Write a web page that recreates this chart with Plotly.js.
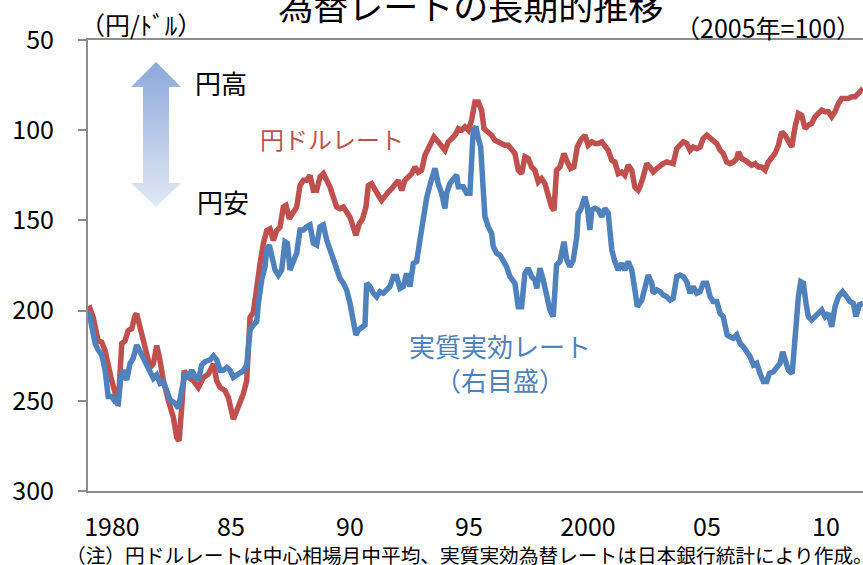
<!DOCTYPE html>
<html>
<head>
<meta charset="utf-8">
<script src="https://cdn.plot.ly/plotly-3.0.1.min.js"></script>
<style>html,body{margin:0;padding:0;background:#fff;}#chart{width:863px;height:565px;}</style>
</head>
<body>
<div id="chart"></div>
<script>
// x tick labels
const tickYears = [1980, 1985, 1990, 1995, 2000, 2005, 2010];
const tickLabels = ["1980", "85", "90", "95", "2000", "05", "10"];
const yTicks = [50, 100, 150, 200, 250, 300];

// 円ドルレート (円/ドル, left axis, reversed)
const usdJpyYears = [1979.03,1979.21,1979.42,1979.57,1979.71,1979.84,1979.99,1980.13,1980.26,1980.41,
1980.55,1980.68,1980.83,1980.97,1981.04,1981.18,1981.32,1981.46,1981.60,1981.74,
1981.88,1982.02,1982.16,1982.37,1982.58,1982.72,1982.82,1982.93,1983.03,1983.21,
1983.42,1983.63,1983.84,1984.05,1984.26,1984.40,1984.54,1984.75,1984.89,1985.10,
1985.24,1985.38,1985.52,1985.66,1985.80,1985.94,1986.08,1986.22,1986.36,1986.50,
1986.64,1986.78,1986.92,1987.06,1987.20,1987.31,1987.45,1987.59,1987.76,1987.90,
1988.04,1988.18,1988.32,1988.46,1988.60,1988.74,1988.88,1989.02,1989.16,1989.30,
1989.44,1989.58,1989.72,1989.86,1990.00,1990.14,1990.25,1990.39,1990.53,1990.67,
1990.77,1990.91,1991.05,1991.19,1991.33,1991.47,1991.61,1991.75,1991.89,1992.03,
1992.17,1992.31,1992.45,1992.59,1992.73,1992.87,1993.01,1993.15,1993.29,1993.43,
1993.53,1993.71,1993.85,1993.99,1994.13,1994.27,1994.41,1994.55,1994.69,1994.83,
1994.97,1995.11,1995.25,1995.39,1995.53,1995.63,1995.81,1995.95,1996.09,1996.23,
1996.37,1996.51,1996.65,1996.79,1996.93,1997.07,1997.21,1997.35,1997.49,1997.63,
1997.77,1997.91,1998.05,1998.19,1998.33,1998.47,1998.57,1998.68,1998.82,1998.99,
1999.13,1999.27,1999.41,1999.55,1999.69,1999.87,2000.01,2000.16,2000.29,2000.43,
2000.58,2000.71,2000.85,2001.00,2001.13,2001.27,2001.42,2001.55,2001.69,2001.84,
2001.97,2002.11,2002.18,2002.32,2002.47,2002.60,2002.74,2002.89,2003.03,2003.16,
2003.31,2003.45,2003.58,2003.73,2003.87,2004.00,2004.15,2004.29,2004.42,2004.57,
2004.71,2004.84,2004.99,2005.13,2005.26,2005.41,2005.55,2005.68,2005.83,2005.97,
2006.11,2006.25,2006.32,2006.46,2006.60,2006.74,2006.88,2007.02,2007.16,2007.30,
2007.44,2007.58,2007.72,2007.86,2008.00,2008.14,2008.28,2008.42,2008.56,2008.70,
2008.84,2008.98,2009.12,2009.26,2009.40,2009.54,2009.68,2009.82,2009.96,2010.10,
2010.24,2010.38,2010.52,2010.66,2010.80,2010.94,2011.08,2011.22,2011.36,2011.56];
const usdJpyValues = [197.2,203.7,216.7,217.6,222.2,231.5,238.9,245.6,252.8,218.3,
216.7,211.1,210.0,202.8,201.8,209.3,216.7,225.9,231.5,229.4,
219.4,227.8,238.9,250.0,259.3,270.4,272.2,253.7,233.3,237.1,
238.9,242.6,237.1,235.2,229.6,238.9,242.6,244.4,248.2,260.2,
255.6,250.9,246.1,238.9,203.7,200.9,186.1,174.1,162.9,155.6,
154.6,161.1,155.6,153.7,142.6,141.7,149.1,146.3,142.6,130.6,
127.8,127.8,125.0,133.3,133.3,125.9,124.1,127.8,131.5,137.1,
142.6,143.5,142.6,145.4,148.2,153.7,158.3,151.8,149.1,142.6,
130.6,129.6,133.3,136.1,138.9,137.1,134.3,132.4,129.6,127.8,
133.3,127.8,125.9,124.1,120.4,123.3,122.2,113.9,110.2,105.6,
103.7,106.5,109.3,111.1,106.5,104.6,102.8,99.1,100.0,98.2,
100.0,94.4,84.3,84.3,88.9,99.1,100.9,102.8,105.6,106.5,
107.4,108.3,108.3,111.1,112.9,122.2,124.1,114.8,115.7,120.4,
122.2,128.7,126.8,129.6,136.1,142.6,144.4,122.2,120.4,112.9,
117.6,121.3,120.4,109.3,105.6,102.8,108.3,106.5,107.4,107.4,
106.5,108.3,111.1,116.7,117.6,124.1,123.2,125.0,119.4,122.2,
131.5,133.3,131.5,125.9,118.5,120.4,123.2,121.3,119.4,118.5,
117.6,118.5,118.5,110.2,108.3,106.5,107.4,111.1,109.3,110.2,
109.3,104.6,102.8,104.6,106.5,107.4,111.1,112.9,117.6,118.5,
117.6,115.7,112.1,115.7,116.7,118.5,119.4,118.5,120.4,120.4,
122.2,117.6,115.7,112.9,108.3,100.9,102.8,105.6,109.3,98.2,
90.7,91.7,99.1,97.2,96.3,92.6,90.7,88.9,89.8,89.8,
92.6,89.8,85.2,82.4,82.4,82.4,81.5,81.5,79.6,76.8];

// 実質実効レート (2005年=100, right axis)
const reerYears = [1979.03,1979.15,1979.29,1979.42,1979.57,1979.71,1979.84,1979.99,1980.13,1980.26,
1980.38,1980.47,1980.62,1980.76,1980.89,1981.04,1981.18,1981.32,1981.46,1981.60,
1981.74,1981.88,1982.02,1982.16,1982.30,1982.44,1982.65,1982.79,1982.93,1983.07,
1983.21,1983.35,1983.49,1983.63,1983.77,1983.91,1984.12,1984.26,1984.40,1984.54,
1984.68,1984.82,1984.96,1985.10,1985.31,1985.52,1985.66,1985.80,1985.94,1986.08,
1986.15,1986.29,1986.43,1986.50,1986.61,1986.71,1986.85,1986.99,1987.13,1987.27,
1987.37,1987.48,1987.62,1987.76,1987.90,1988.04,1988.18,1988.32,1988.46,1988.60,
1988.74,1988.88,1989.02,1989.16,1989.30,1989.44,1989.58,1989.72,1989.86,1990.00,
1990.14,1990.25,1990.35,1990.49,1990.63,1990.70,1990.84,1990.98,1991.12,1991.26,
1991.40,1991.54,1991.68,1991.82,1991.96,1992.10,1992.24,1992.38,1992.52,1992.66,
1992.80,1992.94,1993.08,1993.22,1993.36,1993.50,1993.57,1993.71,1993.85,1993.99,
1994.06,1994.20,1994.34,1994.48,1994.55,1994.76,1994.90,1995.04,1995.18,1995.29,
1995.39,1995.49,1995.60,1995.67,1995.81,1995.95,1996.02,1996.16,1996.30,1996.44,
1996.58,1996.72,1996.93,1997.07,1997.21,1997.35,1997.49,1997.63,1997.77,1997.85,
1997.98,1998.12,1998.27,1998.40,1998.54,1998.68,1998.82,1998.99,1999.11,1999.24,
1999.38,1999.53,1999.59,1999.69,1999.87,1999.97,2000.08,2000.16,2000.29,2000.43,
2000.58,2000.71,2000.85,2001.00,2001.13,2001.27,2001.42,2001.55,2001.69,2001.84,
2001.97,2002.07,2002.26,2002.39,2002.53,2002.68,2002.74,2002.89,2003.03,2003.16,
2003.31,2003.45,2003.58,2003.73,2003.87,2004.00,2004.15,2004.29,2004.42,2004.57,
2004.71,2004.84,2004.99,2005.13,2005.26,2005.41,2005.55,2005.68,2005.76,2005.85,
2005.97,2006.11,2006.25,2006.39,2006.53,2006.67,2006.81,2006.95,2007.09,2007.23,
2007.37,2007.51,2007.62,2007.79,2007.93,2008.07,2008.18,2008.28,2008.42,2008.58,
2008.70,2008.84,2008.94,2009.05,2009.16,2009.26,2009.40,2009.54,2009.68,2009.82,
2009.96,2010.10,2010.24,2010.38,2010.52,2010.70,2010.87,2011.01,2011.15,2011.26,
2011.40,2011.56];
const reerValues = [89.6,84.6,79.1,76.9,75.2,70.2,61.4,61.4,59.7,59.2,
68.0,70.2,66.9,72.5,74.1,78.6,76.3,73.6,71.9,69.1,
67.5,68.6,65.8,66.4,63.6,60.3,59.2,57.5,63.6,68.6,
68.0,70.2,68.0,66.9,71.9,73.0,73.6,74.9,73.6,70.2,
70.2,71.1,70.2,67.8,68.9,70.0,71.9,83.5,85.2,86.3,
92.4,100.2,104.6,110.2,111.8,107.9,103.5,101.8,103.5,112.9,
112.4,103.5,106.8,109.1,116.8,116.8,117.9,118.5,112.4,111.8,
117.9,118.5,113.5,110.2,107.9,103.5,100.7,99.1,96.9,92.4,
86.9,81.9,83.5,84.6,85.2,99.1,98.0,95.8,94.6,96.3,
95.8,96.9,98.0,101.3,101.3,97.4,98.0,102.4,98.0,105.7,
106.3,113.5,121.5,127.4,131.8,136.1,137.3,132.1,129.0,124.0,
129.0,132.3,133.4,135.1,131.2,131.2,129.0,129.0,150.1,151.2,
147.3,144.5,130.1,121.2,117.9,115.7,111.3,109.1,108.5,106.3,
104.6,101.3,99.1,91.3,91.3,102.4,104.1,101.3,100.2,97.4,
104.1,100.2,94.6,90.2,88.0,105.2,106.3,112.9,106.8,104.6,
106.8,114.6,122.4,123.5,127.9,124.6,116.8,123.5,124.0,123.5,
121.2,124.0,122.4,110.2,106.3,103.5,105.7,103.5,106.3,103.5,
96.9,91.3,93.5,98.0,101.8,99.1,95.8,96.9,96.3,95.2,
94.6,93.5,94.1,101.3,101.8,101.3,99.6,95.8,98.0,95.8,
96.3,99.1,99.1,94.6,93.0,93.0,89.1,88.0,84.6,81.9,
81.3,80.8,81.9,79.1,78.0,76.3,74.7,71.9,72.5,69.1,
66.4,66.4,69.1,69.7,70.8,72.5,76.3,73.0,70.2,69.1,
81.3,94.6,99.6,99.1,92.4,88.0,86.9,88.0,88.5,90.2,
88.0,89.1,84.6,91.3,94.6,96.3,94.6,93.0,92.4,88.0,
91.9,92.4];

const FONT = '"Noto Sans CJK JP", "Noto Sans", sans-serif';
const axisGray = '#8c8c8c';

const arrowSvg = '<svg xmlns="http://www.w3.org/2000/svg" width="50" height="145" viewBox="0 0 50 145">' +
  '<defs><linearGradient id="g" x1="0" y1="0" x2="0" y2="1">' +
  '<stop offset="0" stop-color="#8CA8DA"/><stop offset="1" stop-color="#E2E9F6"/></linearGradient></defs>' +
  '<polygon points="25,0 50,25 38,25 38,121 50,121 25,145 0,121 12,121 12,25 0,25" fill="url(#g)"/></svg>';

const traces = [
  {x: usdJpyYears, y: usdJpyValues, type: 'scatter', mode: 'lines', name: '円ドルレート',
   line: {color: '#C0504D', width: 5.5}, yaxis: 'y', hoverinfo: 'skip'},
  {x: reerYears, y: reerValues, type: 'scatter', mode: 'lines', name: '実質実効レート',
   line: {color: '#4F81BD', width: 5.5}, yaxis: 'y2', hoverinfo: 'skip'}
];

const layout = {
  width: 863, height: 565,
  margin: {l: 88, r: 0, t: 40, b: 74, pad: 0},
  paper_bgcolor: '#ffffff', plot_bgcolor: '#ffffff',
  font: {family: FONT, color: '#000000'},
  showlegend: false,
  title: {text: '為替レートの長期的推移', font: {family: FONT, size: 35, color: '#000'},
          xref: 'paper', x: 0.494, xanchor: 'center', yref: 'container', y: 0.986, yanchor: 'middle'},
  xaxis: {range: [1978.992, 2011.555], tickmode: 'array', tickvals: tickYears, ticktext: tickLabels,
          ticks: '', showline: true, linecolor: axisGray, linewidth: 2, mirror: true,
          showgrid: false, zeroline: false, tickfont: {size: 25, family: FONT, color: '#000'},
          ticklabelstandoff: 13, fixedrange: true},
  yaxis: {range: [300, 50], tickmode: 'array', tickvals: yTicks, ticks: 'outside', ticklen: 8,
          tickwidth: 2, tickcolor: axisGray, showline: true, linecolor: axisGray, linewidth: 2,
          showgrid: false, zeroline: false, tickfont: {size: 25, family: FONT, color: '#000'},
          ticklabelstandoff: 19, fixedrange: true},
  yaxis2: {overlaying: 'y', side: 'right', range: [30, 180], visible: false, fixedrange: true},
  images: [{source: 'data:image/svg+xml;charset=utf-8,' + encodeURIComponent(arrowSvg),
            xref: 'paper', yref: 'paper', x: 0.0555, y: 0.9512, sizex: 0.06452, sizey: 0.3215,
            xanchor: 'left', yanchor: 'top', sizing: 'stretch', layer: 'above'}],
  annotations: [
    {text: '円高', xref: 'paper', yref: 'paper', x: 0.1355, y: 0.9047, xanchor: 'left', yanchor: 'middle',
     showarrow: false, font: {size: 26, family: FONT, color: '#000'}},
    {text: '円安', xref: 'paper', yref: 'paper', x: 0.138, y: 0.6408, xanchor: 'left', yanchor: 'middle',
     showarrow: false, font: {size: 26, family: FONT, color: '#000'}},
    {text: '円ドルレート', xref: 'paper', yref: 'paper', x: 0.2194, y: 0.7805, xanchor: 'left', yanchor: 'middle',
     showarrow: false, font: {size: 24, family: FONT, color: '#C0504D'}},
    {text: '実質実効レート<br>（右目盛）', xref: 'paper', yref: 'paper', x: 0.5316, y: 0.286,
     xanchor: 'center', yanchor: 'middle', align: 'center',
     showarrow: false, font: {size: 26, family: FONT, color: '#4F81BD'}},
    {text: '（円/ﾄﾞﾙ）', xref: 'paper', yref: 'paper', x: 0.069, y: 1.036, xanchor: 'center', yanchor: 'middle',
     showarrow: false, font: {size: 25, family: FONT, color: '#000'}},
    {text: '（2005年=100）', xref: 'paper', yref: 'paper', x: 0.8774, y: 1.0288, xanchor: 'center', yanchor: 'middle',
     showarrow: false, font: {size: 25, family: FONT, color: '#000'}},
    {text: '（注）円ドルレートは中心相場月中平均、実質実効為替レートは日本銀行統計により作成。',
     xref: 'paper', yref: 'paper', x: -0.031, y: -0.1397, xanchor: 'left', yanchor: 'middle',
     showarrow: false, font: {size: 19.7, family: FONT, color: '#000'}}
  ]
};

Plotly.newPlot('chart', traces, layout, {displayModeBar: false, staticPlot: true});
</script>
</body>
</html>
